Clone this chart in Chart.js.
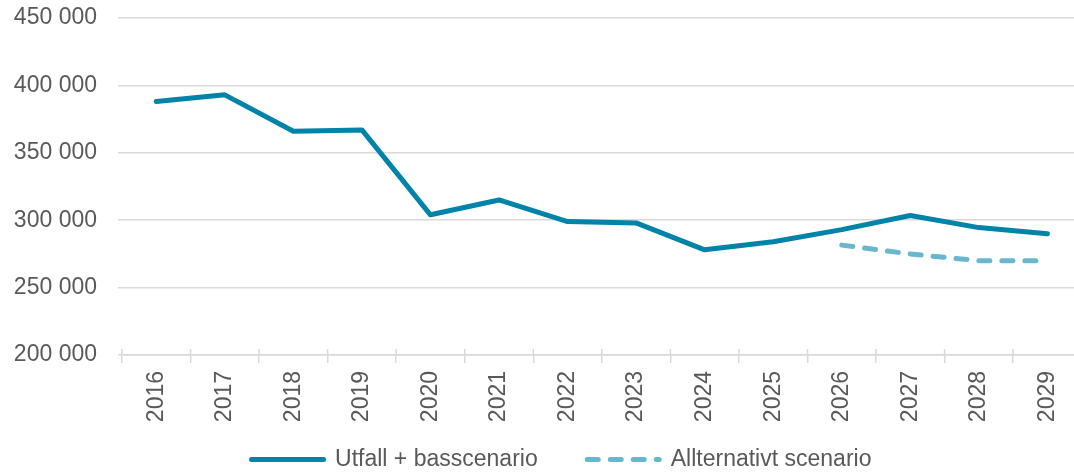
<!DOCTYPE html>
<html>
<head>
    <title>Utfall och scenarier</title>
    <script src="https://cdn.jsdelivr.net/npm/chart.js"></script>
    <style>
        body { margin: 0; overflow: hidden; background: #fff; }
        #chart-container { width: 1083px; height: 473px; }
    </style>
</head>
<body>
    <div id="chart-container"><canvas id="chart"></canvas></div>

    <script>
        // Values
        const years = ['2016', '2017', '2018', '2019', '2020', '2021', '2022',
                       '2023', '2024', '2025', '2026', '2027', '2028', '2029'];
        const baseValues = [388000, 393000, 366000, 367000, 304000, 315000, 299000,
                            298000, 278000, 284000, 293000, 303500, 294500, 290000];
        const altValues = [null, null, null, null, null, null, null,
                           null, null, null, 281500, 275000, 270000, 270000];
        const seriesNames = ['Utfall + basscenario', 'Allternativt scenario'];

        const textColor = '#595959';
        const gridColor = '#d9d9d9';
        const fontFamily = "'Liberation Sans', Arial, sans-serif";

        function formatThousands(v) {
            return String(v).replace(/\B(?=(\d{3})+(?!\d))/g, ' ');
        }

        // Excel-style category tick marks that cross the x axis line
        const crossTicks = {
            id: 'crossTicks',
            afterDraw(chart) {
                const x = chart.scales.x;
                const ctx = chart.ctx;
                const half = (x.getPixelForValue(1) - x.getPixelForValue(0)) / 2;
                ctx.save();
                ctx.strokeStyle = gridColor;
                ctx.lineWidth = 1.5;
                ctx.beginPath();
                for (let i = 0; i <= years.length; i++) {
                    const px = x.getPixelForValue(i) - half;
                    ctx.moveTo(px, x.top - 6);
                    ctx.lineTo(px, x.top);
                }
                ctx.stroke();
                ctx.restore();
            }
        };

        // the legend in the original sits a little right of centre
        const legendShift = {
            id: 'legendShift',
            afterLayout(chart) {
                chart.legend.left += 20;
                chart.legend.right += 20;
            }
        };

        function createChart() {
            const canvas = document.getElementById('chart');

            new Chart(canvas, {
                type: 'line',
                data: {
                    labels: years,
                    datasets: [
                        {
                            label: seriesNames[0],
                            data: baseValues,
                            borderColor: '#0083a9',
                            backgroundColor: '#0083a9',
                            borderWidth: 5,
                            borderCapStyle: 'round',
                            borderJoinStyle: 'round',
                            pointRadius: 0,
                            tension: 0
                        },
                        {
                            label: seriesNames[1],
                            data: altValues,
                            borderColor: '#69b6cf',
                            backgroundColor: '#69b6cf',
                            borderWidth: 5,
                            borderDash: [11, 12],
                            borderCapStyle: 'round',
                            pointRadius: 0,
                            tension: 0
                        }
                    ]
                },
                options: {
                    responsive: true,
                    maintainAspectRatio: false,
                    animation: false,
                    layout: {
                        padding: { left: 0, right: 0, top: 18, bottom: -8 }
                    },
                    plugins: {
                        tooltip: { enabled: false },
                        legend: {
                            position: 'bottom',
                            labels: {
                                usePointStyle: true,
                                pointStyle: 'line',
                                pointStyleWidth: 72,
                                padding: 24,
                                color: textColor,
                                font: { family: fontFamily, size: 23 },
                                generateLabels(chart) {
                                    const items = Chart.defaults.plugins.legend.labels.generateLabels(chart);
                                    items.forEach(item => {
                                        const ds = chart.data.datasets[item.datasetIndex];
                                        item.lineDash = ds.borderDash || [];
                                        item.lineCap = ds.borderCapStyle;
                                        item.lineWidth = ds.borderWidth;
                                        item.strokeStyle = ds.borderColor;
                                        // wider gap between the two entries
                                        if (item.datasetIndex === 0) item.text += '    ';
                                    });
                                    return items;
                                }
                            }
                        }
                    },
                    scales: {
                        x: {
                            offset: true,
                            grid: {
                                offset: true,
                                drawOnChartArea: false,
                                tickLength: 8,
                                color: gridColor,
                                lineWidth: 1.5
                            },
                            border: { color: gridColor, width: 1.5 },
                            ticks: {
                                autoSkip: false,
                                minRotation: 90,
                                maxRotation: 90,
                                padding: 8,
                                color: textColor,
                                font: { family: fontFamily, size: 23 }
                            },
                            afterFit: function (scale) { scale.height = 69; }
                        },
                        y: {
                            min: 200000,
                            max: 450000,
                            grid: {
                                color: gridColor,
                                lineWidth: 1.5,
                                tickLength: 4
                            },
                            border: { display: false },
                            ticks: {
                                stepSize: 50000,
                                padding: 21,
                                color: textColor,
                                font: { family: fontFamily, size: 23 },
                                callback: function (v) { return formatThousands(v); }
                            },
                            afterFit: function (scale) {
                                scale.width = 122;
                                scale.paddingTop = 0;
                                scale.paddingBottom = 0;
                            }
                        }
                    }
                },
                plugins: [crossTicks, legendShift]
            });
        }

        window.addEventListener('DOMContentLoaded', createChart);
    </script>
</body>
</html>
